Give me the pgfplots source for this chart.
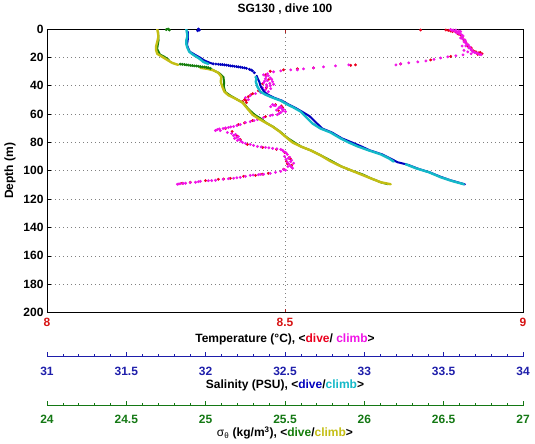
\documentclass[border=0pt]{standalone}
\usepackage{fontspec}
\setmainfont{Liberation Sans}
\usepackage{pgfplots}
\pgfplotsset{compat=1.18}

\definecolor{framered}{RGB}{175,35,35}
\definecolor{tempred}{RGB}{215,20,20}
\definecolor{tdive}{RGB}{235,0,30}
\definecolor{tclimb}{RGB}{240,20,230}
\definecolor{salblue}{RGB}{30,30,170}
\definecolor{sdive}{RGB}{0,0,190}
\definecolor{sclimb}{RGB}{20,185,200}
\definecolor{siggreen}{RGB}{20,120,20}
\definecolor{gdive}{RGB}{20,125,10}
\definecolor{gclimb}{RGB}{195,190,20}

\newcommand{\lf}{\fontsize{12}{14}\selectfont\bfseries}

\pgfplotsset{
  dataaxis/.style={scale only axis, width=476pt, height=283.5pt,
    ymin=0, ymax=200, y dir=reverse, hide axis},
  denseline/.style={line width=2.4pt, line join=round, line cap=round, no markers},
  diveline/.style={line width=2.0pt, line join=round, line cap=round, no markers},
  sparsemarks/.style={only marks, mark=*, mark size=1.25pt},
  scaleaxis/.style={scale only axis, width=476pt, height=10pt, ymin=0, ymax=1,
    anchor=south west, axis x line*=bottom, axis y line=none,
    tick align=inside, major tick length=5pt, minor tick length=3pt,
    minor x tick num=4,
    tick label style={font=\lf},
    /pgf/number format/assume math mode=true},
}

\begin{document}
\begin{tikzpicture}
\path (-47pt,-130.5pt) rectangle (488pt,311.5pt);

% ---------------- Temperature (main frame) ----------------
\begin{axis}[
  scale only axis, width=476pt, height=283.5pt,
  xmin=8, xmax=9, ymin=0, ymax=200, y dir=reverse,
  xtick={8,8.5,9}, xticklabels={8,8.5,9},
  ytick={0,20,...,200},
  /pgf/number format/assume math mode=true,
  tick label style={font=\lf},
  x axis line style={framered, line width=0.8pt},
  y axis line style={black, line width=0.8pt},
  xtick style={framered, line width=0.6pt},
  ytick style={black, line width=0.6pt},
  tick align=inside, major tick length=4pt,
  xticklabel style={tempred, anchor=base, yshift=-14.4pt},
  ymajorgrids, xmajorgrids,
  grid style={gray, line width=0.6pt, dash pattern=on 0.8pt off 3.2pt},
  title={SG130 , dive 100},
  title style={font=\lf, at={(axis description cs:0.5,1)}, anchor=base, yshift=11pt},
  xlabel={Temperature (°C), <{\color{tdive}dive}/ {\color{tclimb}climb}>},
  xlabel style={font=\lf, at={(axis description cs:0.5,0)}, anchor=base, yshift=-29.7pt},
  ylabel={Depth (m)},
  ylabel style={font=\lf, at={(axis description cs:-0.0777,0.5)}, anchor=center},
]
% dive
\addplot[sparsemarks, color=tdive] coordinates {
(8.785,0.7) (8.838,0.7) (8.848,1.4) (8.859,2.1) (8.869,4.2) (8.876,7.7)
(8.884,11.9) (8.891,14.0) (8.901,16.1) (8.907,16.8) (8.914,17.5) (8.891,13.3)
(8.843,0.9) (8.852,1.8) (8.864,3.5) (8.872,6.0) (8.880,9.5) (8.887,13.0)
(8.896,15.5) (8.905,17.9) (8.910,16.5)
(8.848,19.3) (8.806,21.8) (8.743,24.6) (8.648,25.3) (8.638,25.6) (8.560,27.4)
(8.526,28.1) (8.497,28.8) (8.469,29.8)
(8.459,32.3) (8.465,35.8) (8.453,38.6) (8.461,41.4) (8.444,43.5) (8.432,45.6)
(8.423,47.7) (8.415,49.8) (8.411,51.2) (8.419,51.9) (8.428,46.5) (8.418,50.5)
(8.480,53.3) (8.495,55.4) (8.486,57.5) (8.492,54.2)
(8.459,61.8) (8.432,64.6) (8.402,67.4) (8.375,70.2) (8.389,72.3) (8.415,66.2)
(8.398,75.1) (8.406,77.9) (8.421,81.4) (8.453,83.5) (8.482,84.9) (8.499,87.0)
(8.509,90.5) (8.503,93.3) (8.514,96.1) (8.497,98.9) (8.511,91.5) (8.505,95.0)
(8.465,101.8) (8.438,103.2) (8.413,103.9) (8.385,105.3) (8.360,106.0)
(8.333,107.0) (8.301,108.1) (8.284,108.8) (8.452,102.4) (8.371,105.8)
};
% climb
\addplot[sparsemarks, color=tclimb] coordinates {
(8.848,0.4) (8.853,0.7) (8.859,0.7) (8.865,1.4) (8.869,1.8) (8.861,2.8)
(8.867,3.5) (8.874,4.9) (8.869,6.3) (8.878,7.7) (8.876,9.1) (8.882,10.5)
(8.880,11.9) (8.886,13.3) (8.891,14.7) (8.895,16.1) (8.901,16.8) (8.907,17.5)
(8.912,18.2) (8.884,16.1) (8.891,17.5)
(8.851,1.0) (8.857,1.6) (8.862,2.2) (8.866,3.0) (8.871,4.0) (8.872,5.5)
(8.873,7.0) (8.879,8.5) (8.880,10.0) (8.885,11.2) (8.888,12.5) (8.890,13.8)
(8.893,15.3) (8.898,16.5) (8.904,17.0) (8.909,17.9) (8.876,15.0) (8.872,12.0)
(8.874,18.2) (8.859,18.9) (8.842,19.6) (8.827,20.4) (8.813,21.4) (8.796,22.5)
(8.779,23.2) (8.760,23.9) (8.743,24.6) (8.733,25.3) (8.634,25.3) (8.606,26.0)
(8.581,26.7) (8.560,27.4) (8.539,28.1) (8.526,28.8) (8.512,28.8) (8.491,29.5)
(8.476,30.2) (8.463,31.6)
(8.455,32.3) (8.465,33.0) (8.469,34.4) (8.459,35.1) (8.463,36.5) (8.474,37.2)
(8.455,37.9) (8.461,39.3) (8.469,40.0) (8.453,41.4) (8.459,42.8) (8.465,44.2)
(8.460,33.6) (8.472,35.5) (8.457,36.8) (8.468,38.4) (8.476,39.0) (8.462,40.7)
(8.457,43.4) (8.470,42.0) (8.449,44.9)
(8.438,45.6) (8.427,47.0) (8.417,48.4) (8.423,49.8)
(8.474,53.3) (8.480,54.0) (8.491,54.7) (8.486,56.1) (8.497,56.8) (8.501,58.2)
(8.491,58.9) (8.477,53.9) (8.488,55.3) (8.493,56.0) (8.482,57.2) (8.495,57.8)
(8.488,59.4) (8.470,54.8)
(8.484,60.4) (8.469,61.1) (8.455,62.5) (8.442,63.9) (8.427,65.3) (8.417,66.0)
(8.406,67.4) (8.392,68.8) (8.381,69.5) (8.370,70.2) (8.358,70.9) (8.354,71.6)
(8.364,71.6) (8.379,73.0) (8.474,60.7) (8.448,63.2) (8.435,64.6) (8.399,68.1)
(8.386,69.1) (8.375,69.8) (8.362,70.5)
(8.396,74.4) (8.402,75.8) (8.394,77.2) (8.400,78.6) (8.408,79.3) (8.417,80.7)
(8.388,73.7) (8.399,76.5) (8.404,77.8) (8.392,75.2) (8.411,80.1)
(8.427,81.4) (8.442,82.8) (8.459,83.5) (8.474,84.2) (8.491,84.9) (8.497,86.3)
(8.434,82.1) (8.450,83.2) (8.466,83.8) (8.483,84.5)
(8.503,87.7) (8.499,89.8) (8.507,91.2) (8.514,92.6) (8.505,94.0) (8.518,94.7)
(8.512,96.8) (8.516,98.2) (8.501,99.6) (8.491,100.4)
(8.495,85.6) (8.501,87.0) (8.505,88.5) (8.510,90.5) (8.502,91.9) (8.512,93.5)
(8.509,95.5) (8.514,97.4) (8.497,99.0) (8.506,97.0)
(8.480,101.1) (8.469,101.8) (8.455,102.5) (8.444,102.8) (8.427,103.2)
(8.417,103.9) (8.406,104.6) (8.392,105.3) (8.381,105.6) (8.370,106.0)
(8.354,106.7) (8.339,107.0) (8.322,107.4) (8.312,108.1) (8.301,108.4)
(8.291,108.8) (8.280,109.1) (8.274,109.5)
(8.448,102.6) (8.433,103.0) (8.399,104.9) (8.346,106.9) (8.318,107.7)
(8.286,108.9) (8.277,109.3)
};
\end{axis}

% ---------------- Salinity data ----------------
\begin{axis}[dataaxis, xmin=31, xmax=34]
% dive
\addplot[diveline, color=sdive] coordinates {
(31.888,2) (31.887,8) (31.882,11) (31.888,13) (31.900,16) (31.930,18.0)
(31.965,20.2) (31.992,22.2) (32.026,23.8) (32.042,24.4)
};
\addplot[sparsemarks, color=sdive] coordinates {
(31.954,0) (31.960,0.7) (31.950,1.2)
(32.048,24.6) (32.064,24.7) (32.080,24.8) (32.093,25.0) (32.105,25.1)
(32.118,25.3) (32.131,25.5) (32.144,25.7) (32.156,26.0) (32.168,26.1)
(32.181,26.3) (32.194,26.5) (32.206,26.7) (32.219,26.9) (32.232,27.2)
(32.245,27.4) (32.257,27.7) (32.276,28.4) (32.287,28.9)
(32.295,29.5) (32.307,30.9)
};
\addplot[diveline, color=sdive] coordinates {
(32.322,33.0) (32.328,35) (32.338,37.2) (32.348,40.7) (32.368,44.2)
(32.392,46.3) (32.430,48.4) (32.480,50.5) (32.524,53.3) (32.562,55.4)
(32.606,58.2) (32.655,61.5) (32.696,66.0) (32.735,70.2) (32.796,73)
(32.860,77.2) (32.922,80) (32.975,82.5) (33.035,85.6) (33.112,88.4)
(33.162,91.2) (33.210,94.0) (33.255,95.2) (33.280,96.0) (33.340,98.6)
(33.414,101.2) (33.480,104.2) (33.540,106.6) (33.585,108.0) (33.634,109.6)
};
% climb
\addplot[denseline, color=sclimb] coordinates {
(31.878,0) (31.881,2) (31.884,4) (31.884,5.6) (31.878,8) (31.878,10.5)
(31.884,13) (31.897,16.1) (31.922,18.2) (31.954,20.4) (31.973,22)
(31.985,23.2) (32.017,24.6)
};
\addplot[denseline, color=sclimb] coordinates {
(32.314,33.7) (32.320,35) (32.316,37.2) (32.326,40.7) (32.345,44.2)
(32.377,46.3) (32.421,48.4) (32.472,50.5) (32.516,53.3) (32.554,55.4)
(32.598,58.2) (32.636,62.5) (32.674,66.7) (32.724,70.2) (32.787,73)
(32.851,77.2) (32.901,80) (32.958,82.8) (33.027,85.6) (33.103,88.4)
(33.154,91.2) (33.185,93.5)
};
\addplot[denseline, color=sclimb] coordinates {
(33.261,95.4) (33.324,98.2) (33.406,101) (33.482,104.6) (33.558,107.4)
(33.627,109.5)
};
\end{axis}

% ---------------- Sigma-theta data ----------------
\begin{axis}[dataaxis, xmin=24, xmax=27]
% dive
\addplot[sparsemarks, color=gdive] coordinates {
(24.764,0) (24.771,0.7) (24.752,0.4)
(24.840,24.8) (24.853,24.9) (24.866,25.1) (24.878,25.3) (24.890,25.4)
(24.903,25.6) (24.916,25.8) (24.928,26.0) (24.941,26.1) (24.954,26.3)
(24.966,26.5) (24.979,26.7) (24.992,26.8) (25.004,27.0) (25.016,27.3)
(25.029,27.7)
};
\addplot[diveline, color=gdive] coordinates {
(24.700,2) (24.703,8) (24.694,14) (24.712,18.0) (24.740,19.6) (24.768,21.8)
};
\addplot[diveline, color=gdive] coordinates {
(25.040,28.5) (25.053,29.3) (25.085,31.1) (25.112,33.9) (25.116,37.4)
(25.115,40.9) (25.123,44.4) (25.155,46.9) (25.192,49.3) (25.237,52.1)
(25.268,56.3) (25.310,60.6) (25.350,63.4) (25.382,66.2) (25.426,69.0)
(25.470,72.5) (25.514,76.7) (25.562,80.2) (25.603,83.0) (25.666,85.8)
(25.729,89.3) (25.800,93.5) (25.856,97.0) (25.919,99.8) (25.992,102.7)
(26.045,105.5) (26.108,108.3) (26.150,109.5)
};
% climb
\addplot[denseline, color=gclimb] coordinates {
(24.695,0) (24.701,4) (24.701,6) (24.695,9) (24.688,12) (24.688,15)
(24.695,17.5) (24.726,19.6) (24.758,21.8) (24.789,23.9) (24.827,25.3)
};
\addplot[denseline, color=gclimb] coordinates {
(24.966,27.4) (25.011,28.1) (25.048,29.1) (25.080,30.9) (25.099,33.7)
(25.095,37.2) (25.105,40.7) (25.118,44.2) (25.143,46.7) (25.187,49.1)
(25.232,51.9) (25.263,56.1) (25.295,60.4) (25.333,63.2) (25.377,66.0)
(25.421,68.8) (25.465,72.3) (25.509,76.5) (25.547,80.0) (25.598,82.8)
(25.661,85.6) (25.724,89.1) (25.787,93.3) (25.851,96.8) (25.914,99.6)
(25.977,102.5) (26.040,105.3) (26.103,108.1) (26.166,109.5)
};
\end{axis}

% ---------------- Salinity scale ----------------
\begin{axis}[scaleaxis, at={(0pt,-44.3pt)},
  xmin=31, xmax=34,
  xtick={31,31.5,32,32.5,33,33.5,34},
  xticklabels={31,31.5,32,32.5,33,33.5,34},
  x axis line style={salblue, line width=0.8pt, -},
  xtick style={salblue, line width=0.6pt},
  xticklabel style={salblue, anchor=base, yshift=-18.6pt},
  xlabel={Salinity (PSU), <{\color{sdive}dive}/{\color{sclimb}climb}>},
  xlabel style={font=\lf, at={(axis description cs:0.5,0)}, anchor=base, yshift=-32pt},
]
\end{axis}

% ---------------- Sigma scale ----------------
\begin{axis}[scaleaxis, at={(0pt,-93pt)},
  xmin=24, xmax=27,
  xtick={24,24.5,25,25.5,26,26.5,27},
  xticklabels={24,24.5,25,25.5,26,26.5,27},
  x axis line style={siggreen, line width=0.8pt, -},
  xtick style={siggreen, line width=0.6pt},
  xticklabel style={siggreen, anchor=base, yshift=-17.5pt},
  xlabel={{\mdseries σ\textsubscript{θ}} (kg/m\textsuperscript{3}), <{\color{gdive}dive}/{\color{gclimb}climb}>},
  xlabel style={font=\lf, at={(axis description cs:0.5,0)}, anchor=base, yshift=-31pt},
]
\end{axis}
\end{tikzpicture}
\end{document}
